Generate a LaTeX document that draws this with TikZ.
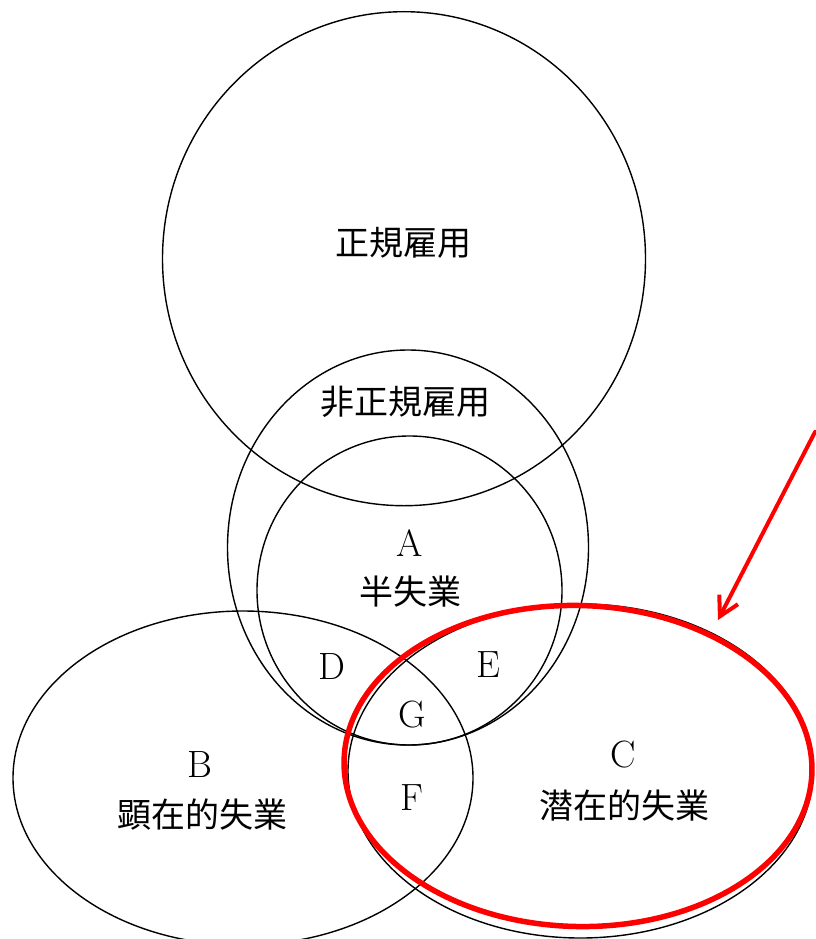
\documentclass[tikz,border=0pt]{standalone}
\usepackage{fontspec}
\newfontfamily\cjk{Noto Sans CJK JP}
\usetikzlibrary{shapes.geometric,arrows.meta}
\tikzset{
  set/.style={ellipse, draw=black, line width=1.4pt, inner sep=0pt, outer sep=0pt},
  jlabel/.style={font=\cjk\fontsize{34}{40}\selectfont, inner sep=0pt},
  letter/.style={font=\fontsize{38}{42}\selectfont, inner sep=0pt},
  redring/.style={draw=red, line width=5.5pt},
  pointer/.style={draw=red, line width=4pt, line cap=round, -{Straight Barb[length=19pt,width=21pt,line width=4pt]}}
}
\begin{document}
\begin{tikzpicture}[x=1pt,y=-1pt]
\useasboundingbox (0,0) rectangle (815,939);
% sets
\node[set, minimum width=483pt, minimum height=494pt] (regular) at (404,258.7) {};
\node[set, minimum width=361pt, minimum height=395pt] (nonregular) at (408,547.5) {};
\node[set, minimum width=305pt, minimum height=309pt] (half) at (409.5,590.5) {};
\node[set, minimum width=460pt, minimum height=334pt] (overt) at (243,778) {};
\node[set, minimum width=465pt, minimum height=334pt] (latent) at (580.5,771) {};
% labels
\node[jlabel] (lregular) at (403,243) {正規雇用};
\node[jlabel] (lnonregular) at (405,402) {非正規雇用};
\node[letter] (lA) at (410,543) {A};
\node[jlabel] (lhalf) at (410,592) {半失業};
\node[letter] (lD) at (332,667) {D};
\node[letter] (lE) at (488,665) {E};
\node[letter] (lG) at (412,715) {G};
\node[letter] (lB) at (200,765) {B};
\node[jlabel] (lovert) at (202,815) {顕在的失業};
\node[letter] (lF) at (412,798) {F};
\node[letter] (lC) at (623,755) {C};
\node[jlabel] (llatent) at (624,806) {潜在的失業};
% red highlight
\node[ellipse, redring, inner sep=0pt, minimum width=468pt, minimum height=321pt, rotate=-1.5] (highlight) at (578,766) {};
\coordinate (arrowstart) at (815,432);
\coordinate (arrowtip) at (718,620);
\draw[pointer] (arrowstart) -- (arrowtip);
\end{tikzpicture}
\end{document}
